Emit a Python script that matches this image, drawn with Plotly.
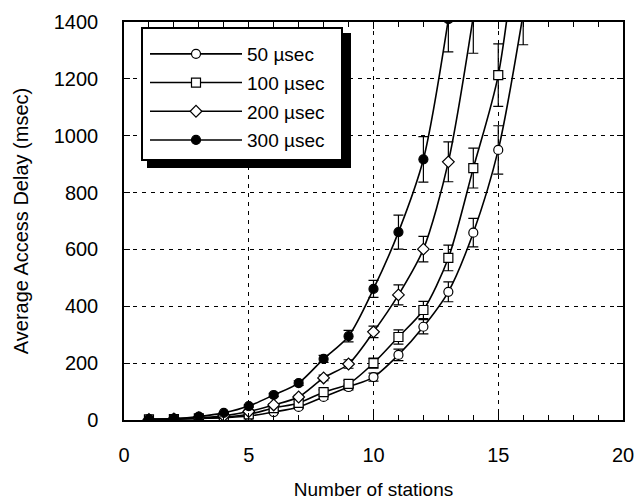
import plotly.graph_objects as go

# ---- data ----
stations_50 = list(range(1, 17))
delay_50 = [2, 3, 5, 8, 14, 28, 46, 81, 116, 151, 229, 328, 451, 659, 950, 1430]
err_50 = [1, 1, 1, 2, 3, 4, 6, 8, 10, 14, 20, 25, 35, 50, 85, 110]

stations_100 = list(range(1, 17))
delay_100 = [2, 3, 6, 10, 20, 42, 60, 98, 127, 200, 292, 387, 570, 886, 1213, 1900]
err_100 = [1, 1, 1, 2, 3, 4, 6, 8, 12, 18, 25, 30, 45, 70, 110, 160]

stations_200 = list(range(1, 15))
delay_200 = [2, 4, 8, 15, 30, 53, 81, 148, 197, 310, 440, 601, 908, 1420]
err_200 = [1, 1, 1, 2, 3, 4, 6, 10, 15, 20, 35, 45, 70, 130]

stations_300 = list(range(1, 14))
delay_300 = [3, 5, 12, 25, 49, 88, 130, 215, 295, 461, 661, 917, 1410]
err_300 = [1, 1, 1, 2, 4, 6, 8, 12, 20, 30, 60, 80, 115]

series_names = ["50 µsec", "100 µsec", "200 µsec", "300 µsec"]
x_ticks = [0, 5, 10, 15, 20]
y_ticks = [0, 200, 400, 600, 800, 1000, 1200, 1400]

FONT = "Liberation Sans, Arial, sans-serif"

series = [
    (stations_50, delay_50, err_50, "circle", "white", 9),
    (stations_100, delay_100, err_100, "square", "white", 9),
    (stations_200, delay_200, err_200, "diamond", "white", 9),
    (stations_300, delay_300, err_300, "circle", "black", 9),
]

fig = go.Figure()
for i, (xs, ys, es, sym, fill, sz) in enumerate(series):
    fig.add_trace(go.Scatter(
        x=xs, y=ys, name=series_names[i], mode="lines+markers",
        legendgroup=f"g{i}",
        line=dict(color="black", width=1.6, shape="spline", smoothing=0.8),
        marker=dict(symbol=sym, size=sz, color=fill,
                    line=dict(color="black", width=1.2)),
        error_y=dict(type="data", array=es, visible=True, color="black",
                     thickness=1.2, width=5),
    ))

W, H = 637, 500
ml, mr, mt, mb = 124, 14, 22, 80
pw, ph = W - ml - mr, H - mt - mb

def px_x(p):
    return (p - ml) / pw

def px_y(p):
    return (H - mb - p) / ph

# legend drop shadow and frame
fig.add_shape(type="rect", xref="paper", yref="paper",
              x0=px_x(147), x1=px_x(351), y0=px_y(168), y1=px_y(33),
              fillcolor="black", line=dict(width=0), layer="above")
fig.add_shape(type="rect", xref="paper", yref="paper",
              x0=px_x(142), x1=px_x(342), y0=px_y(160), y1=px_y(28),
              fillcolor="white", line=dict(color="black", width=2), layer="above")

fig.update_layout(
    width=W, height=H,
    margin=dict(l=ml, r=mr, t=mt, b=mb),
    paper_bgcolor="white", plot_bgcolor="white",
    font=dict(family=FONT, size=20, color="black"),
    showlegend=True,
    legend=dict(x=px_x(145), y=px_y(35), xanchor="left", yanchor="top",
                bgcolor="rgba(0,0,0,0)", borderwidth=0,
                font=dict(size=19), itemwidth=92, tracegroupgap=1,
                itemclick=False),
    xaxis=dict(
        range=[0, 20], tickvals=x_ticks, ticktext=[str(v) for v in x_ticks],
        ticks="inside", ticklen=7, tickcolor="black", tickwidth=1,
        minor=dict(dtick=1, ticks="inside", ticklen=5, tickcolor="black", showgrid=False),
        showline=True, linecolor="black", linewidth=1.5, mirror="allticks",
        showgrid=True, gridcolor="black", griddash="4px,5px", gridwidth=1,
        zeroline=False, ticklabelstandoff=16, automargin=False,
        title=dict(text="Number of stations", font=dict(size=19), standoff=20),
    ),
    yaxis=dict(
        range=[0, 1400], tickvals=y_ticks, ticktext=[str(v) for v in y_ticks],
        ticks="inside", ticklen=6, tickcolor="black", tickwidth=1,
        showline=True, linecolor="black", linewidth=1.5, mirror="allticks",
        showgrid=True, gridcolor="black", griddash="4px,5px", gridwidth=1,
        zeroline=False, ticklabelstandoff=20, automargin=False,
        title=dict(text="Average Access Delay (msec)", font=dict(size=20), standoff=20),
    ),
)

fig.write_html("out.html")
